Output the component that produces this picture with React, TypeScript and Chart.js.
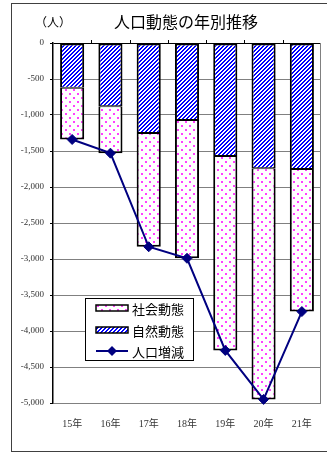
import React, { useEffect, useRef } from 'react';
import { Chart, registerables } from 'chart.js';

Chart.register(...registerables);

const categories = ['15年', '16年', '17年', '18年', '19年', '20年', '21年'];
const naturalChange = [-620, -880, -1250, -1070, -1570, -1740, -1750];
const socialChange = [-720, -650, -1580, -1920, -2700, -3210, -1980];
const totalChange = [-1340, -1530, -2830, -2990, -4270, -4950, -3730];
const yMin = -5000;
const yMax = 0;
const yStep = 500;
const titleText = '人口動態の年別推移';
const unitText = '（人）';
const legendSocial = '社会動態';
const legendNatural = '自然動態';
const legendTotal = '人口増減';

const serif = "'Liberation Serif', 'Noto Sans CJK JP', serif";
const cjk = "'Noto Sans CJK JP', sans-serif";

function makeHatch(): CanvasPattern {
  const c = document.createElement('canvas');
  c.width = 4;
  c.height = 4;
  const g = c.getContext('2d')!;
  const img = g.createImageData(4, 4);
  for (let y = 0; y < 4; y++) {
    for (let x = 0; x < 4; x++) {
      const i = (y * 4 + x) * 4;
      const blue = (x + y) % 4 < 2;
      img.data[i] = blue ? 0 : 255;
      img.data[i + 1] = blue ? 0 : 255;
      img.data[i + 2] = 255;
      img.data[i + 3] = 255;
    }
  }
  g.putImageData(img, 0, 0);
  return g.createPattern(c, 'repeat')!;
}

function makeDots(): CanvasPattern {
  const c = document.createElement('canvas');
  c.width = 8;
  c.height = 8;
  const g = c.getContext('2d')!;
  g.fillStyle = '#ffffff';
  g.fillRect(0, 0, 8, 8);
  g.fillStyle = '#ff40ff';
  g.fillRect(1, 1, 2, 2);
  g.fillRect(5, 5, 2, 2);
  return g.createPattern(c, 'repeat')!;
}

export default function App() {
  const ref = useRef<HTMLCanvasElement>(null);

  useEffect(() => {
    const canvas = ref.current!;
    const hatch = makeHatch();
    const dots = makeDots();

    const deco = {
      id: 'deco',
      beforeDraw(chart: any) {
        const ctx = chart.ctx;
        ctx.save();
        ctx.fillStyle = '#ffffff';
        ctx.fillRect(0, 0, chart.width, chart.height);
        ctx.strokeStyle = '#404040';
        ctx.lineWidth = 1;
        ctx.strokeRect(11.5, 3.5, 400, 448);
        ctx.restore();
      },
      afterDraw(chart: any) {
        const ctx = chart.ctx;
        const a = chart.chartArea;
        ctx.save();
        ctx.fillStyle = '#000';
        ctx.textBaseline = 'middle';
        ctx.textAlign = 'center';
        ctx.font = `12px ${cjk}`;
        ctx.fillText(unitText, 53, 22);
        ctx.font = `16px ${cjk}`;
        ctx.fillText(titleText, 186, 22);
        ctx.strokeStyle = '#808080';
        ctx.lineWidth = 1;
        ctx.beginPath();
        ctx.moveTo(a.right - 0.5, a.top);
        ctx.lineTo(a.right - 0.5, a.bottom);
        ctx.stroke();
        const n = categories.length;
        const w = (a.right - a.left) / n;
        ctx.strokeStyle = '#000';
        ctx.beginPath();
        for (let i = 1; i < n; i++) {
          const x = Math.round(a.left + i * w) + 0.5;
          ctx.moveTo(x, a.top - 3);
          ctx.lineTo(x, a.top);
        }
        ctx.stroke();
        const lx = 85.5, ly = 298.5, lw = 108, lh = 62;
        ctx.fillStyle = '#fff';
        ctx.fillRect(lx, ly, lw, lh);
        ctx.strokeStyle = '#000';
        ctx.lineWidth = 1;
        ctx.strokeRect(lx, ly, lw, lh);
        const items = [
          { label: legendSocial, y: 308, kind: 'dots' },
          { label: legendNatural, y: 330, kind: 'hatch' },
          { label: legendTotal, y: 351, kind: 'line' },
        ];
        for (const it of items) {
          if (it.kind === 'line') {
            ctx.strokeStyle = '#000080';
            ctx.lineWidth = 2;
            ctx.beginPath();
            ctx.moveTo(96, it.y);
            ctx.lineTo(128, it.y);
            ctx.stroke();
            ctx.fillStyle = '#000080';
            ctx.beginPath();
            ctx.moveTo(112, it.y - 5);
            ctx.lineTo(117, it.y);
            ctx.lineTo(112, it.y + 5);
            ctx.lineTo(107, it.y);
            ctx.closePath();
            ctx.fill();
          } else {
            ctx.fillStyle = it.kind === 'dots' ? dots : hatch;
            ctx.fillRect(96, it.y - 3, 32, 6);
            ctx.strokeStyle = '#000';
            ctx.lineWidth = 1.5;
            ctx.strokeRect(96, it.y - 3, 32, 6);
          }
          ctx.fillStyle = '#000';
          ctx.textAlign = 'left';
          ctx.textBaseline = 'middle';
          ctx.font = `13px ${cjk}`;
          ctx.fillText(it.label, 132, it.y + 1);
        }
        ctx.restore();
      },
    };

    const chart = new Chart(canvas, {
      data: {
        labels: categories,
        datasets: [
          {
            type: 'bar',
            label: legendNatural,
            data: naturalChange,
            backgroundColor: hatch,
            borderColor: '#000',
            borderWidth: { top: 2, left: 2, right: 2, bottom: 1 } as any,
            borderSkipped: false,
            barPercentage: 0.63,
            categoryPercentage: 1,
            stack: 'bars',
            order: 2,
          },
          {
            type: 'bar',
            label: legendSocial,
            data: socialChange,
            backgroundColor: dots,
            borderColor: '#000',
            borderWidth: { top: 1, left: 2, right: 2, bottom: 2 } as any,
            borderSkipped: false,
            barPercentage: 0.63,
            categoryPercentage: 1,
            stack: 'bars',
            order: 2,
          },
          {
            type: 'line',
            label: legendTotal,
            data: totalChange,
            borderColor: '#000080',
            backgroundColor: '#000080',
            borderWidth: 2,
            pointStyle: 'rectRot',
            pointRadius: 5,
            pointBorderWidth: 1,
            tension: 0,
            stack: 'line',
            order: 1,
            clip: false as any,
          },
        ],
      } as any,
      options: {
        animation: false,
        responsive: false,
        layout: { padding: { top: 43, right: 4, bottom: 0, left: 0 } },
        plugins: {
          legend: { display: false },
          tooltip: { enabled: false },
          title: { display: false },
        },
        scales: {
          x: {
            stacked: true,
            grid: { display: false },
            border: { display: false },
            ticks: {
              font: { size: 10, family: serif },
              color: '#333',
              padding: 7,
              maxRotation: 0,
            },
            afterFit: (s: any) => {
              s.height = 50;
            },
          },
          y: {
            stacked: true,
            min: yMin,
            max: yMax,
            ticks: {
              stepSize: yStep,
              font: { size: 9, family: serif },
              color: '#333',
              padding: 6,
              callback: (v: any) => Number(v).toLocaleString('en-US'),
            },
            grid: {
              color: (c: any) => (c.tick && c.tick.value === 0 ? '#000' : '#808080'),
              lineWidth: 1,
              tickLength: 3,
              tickColor: '#000',
            },
            border: { color: '#000', width: 1.5 },
            afterFit: (s: any) => {
              s.width = 53;
            },
          },
        },
      } as any,
      plugins: [deco],
    });

    return () => chart.destroy();
  }, []);

  return (
    <div style={{ position: 'absolute', left: 0, top: 0, width: 327, height: 453 }}>
      <canvas ref={ref} width={327} height={453} style={{ display: 'block' }} />
    </div>
  );
}
